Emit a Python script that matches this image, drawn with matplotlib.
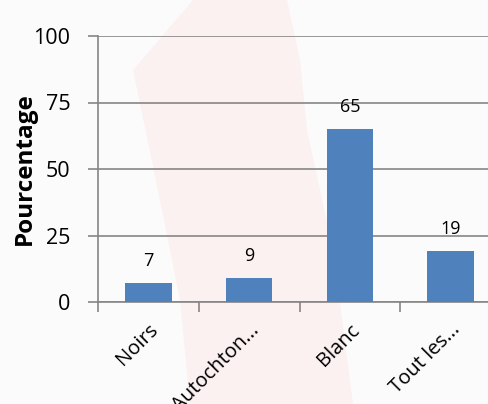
import matplotlib.pyplot as plt
import numpy as np
from matplotlib.patches import Polygon

# Data
categories = ["Noirs", "Autochton...", "Blanc", "Tout les..."]
values = [7, 9, 65, 19]
yticks = [0, 25, 50, 75, 100]

plt.rcParams['font.family'] = ['Open Sans', 'DejaVu Sans']

W, H = 488, 404
fig = plt.figure(figsize=(W / 100, H / 100), dpi=100)
fig.patch.set_facecolor('#fbfbfb')

# faint watermark shape behind the chart (pixel outline -> figure coords)
outline = [(193, 0), (287, 0), (300, 60), (307, 130), (333, 250), (353, 404),
           (190, 404), (180, 300), (160, 200), (133, 70)]
wm = Polygon([(px / W, 1 - py / H) for px, py in outline], closed=True,
             transform=fig.transFigure, facecolor='#fcf1f1',
             edgecolor='none', zorder=-10)
fig.patches.append(wm)

ax = fig.add_axes([98 / W, 1 - 302 / H, 403 / W, 266 / H])
ax.patch.set_alpha(0)

x = np.arange(len(categories))
ax.bar(x, values, width=0.46, color='#4f81bd', zorder=3)
for xi, v in zip(x, values):
    ax.text(xi, v + 5, str(v), ha='center', va='bottom', fontsize=13)

ax.set_xlim(-0.5, len(categories) - 0.5)
ax.set_ylim(0, 100)
ax.set_yticks(yticks)
ax.tick_params(axis='y', labelsize=15.5, length=7, color='#868686', width=1.2, pad=13)
ax.grid(axis='y', color='#868686', linewidth=1.2, zorder=0)

ax.set_xticks(x)
ax.set_xticklabels(categories, rotation=45, ha='right', rotation_mode='anchor',
                   fontsize=14.5)
ax.tick_params(axis='x', length=0, pad=13)
ax.set_xticks(np.arange(-0.5, len(categories), 1.0), minor=True)
ax.tick_params(axis='x', which='minor', length=7, color='#868686', width=1.2)

for s in ['top', 'right']:
    ax.spines[s].set_visible(False)
for s in ['left', 'bottom']:
    ax.spines[s].set_color('#868686')
    ax.spines[s].set_linewidth(1.2)

ax.set_ylabel("Pourcentage", fontsize=17.5, fontweight='bold')
ax.yaxis.set_label_coords(-0.152, 0.5)

fig.savefig("out.png", dpi=100, facecolor=fig.get_facecolor())
